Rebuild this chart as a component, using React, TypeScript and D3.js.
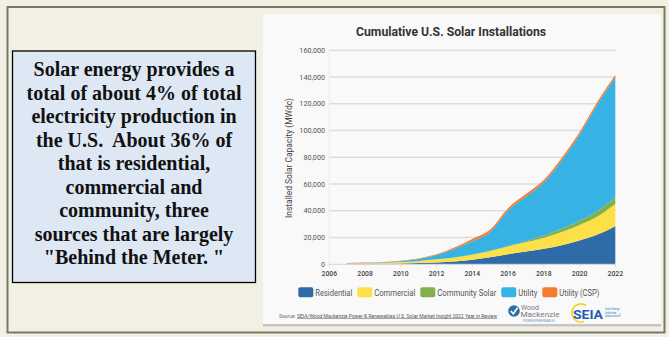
import React from "react";
import * as d3 from "d3";

const years = [2007, 2008, 2009, 2010, 2011, 2012, 2013, 2014, 2015, 2016, 2017, 2018, 2019, 2020, 2021, 2022];
const residential = [150, 250, 400, 650, 950, 1400, 2100, 3400, 5300, 7600, 9500, 11600, 14300, 17800, 22200, 28500];
const commercial = [250, 450, 650, 1000, 1600, 2300, 3000, 3800, 4700, 5700, 6900, 8300, 9800, 11500, 13500, 16500];
const communitySolar = [0, 0, 0, 0, 10, 30, 60, 100, 200, 400, 900, 1600, 2400, 3300, 4200, 5200];
const utility = [80, 180, 320, 580, 1330, 3250, 6340, 10000, 14000, 26500, 33400, 39700, 51200, 64300, 79800, 89500];
const utilityCSP = [420, 420, 430, 470, 510, 520, 1000, 1700, 1800, 1800, 1800, 1800, 1800, 1800, 1800, 1800];

const seriesNames = ["Residential", "Commercial", "Community Solar", "Utility", "Utility (CSP)"];
const seriesColors = ["#2d6ca9", "#fde047", "#82b04b", "#36b2e4", "#f47c30"];
const yTicks = [0, 20000, 40000, 60000, 80000, 100000, 120000, 140000, 160000];
const xTicks = [2006, 2008, 2010, 2012, 2014, 2016, 2018, 2020, 2022];
const legendWidths = [37, 41, 59, 19, 40];

const textLines = [
  "Solar energy provides a",
  "total of about 4% of total",
  "electricity production in",
  "the U.S.  About 36% of",
  "that is residential,",
  "commercial and",
  "community, three",
  "sources that are largely",
  "\"Behind the Meter. \"",
];

export default function App() {
  const x = d3.scaleLinear().domain([2006, 2022]).range([329.3, 615.3]);
  const y = d3.scaleLinear().domain([0, 160000]).range([264.3, 50.3]);

  const rows = years.map((yr, i) => ({
    year: yr,
    [seriesNames[0]]: residential[i],
    [seriesNames[1]]: commercial[i],
    [seriesNames[2]]: communitySolar[i],
    [seriesNames[3]]: utility[i],
    [seriesNames[4]]: utilityCSP[i],
  }));
  const stacked = d3.stack<any>().keys(seriesNames)(rows);
  const area = d3
    .area<any>()
    .x((d) => x(d.data.year))
    .y0((d) => y(d[0]))
    .y1((d) => y(d[1]))
    .curve(d3.curveMonotoneX);

  const fmt = d3.format(",");

  // legend layout
  const legendX: number[] = [];
  let lx = 298.3;
  legendWidths.forEach((w) => {
    legendX.push(lx);
    lx += 15 + 2.5 + w + 4.5;
  });

  return (
    <svg
      width={669}
      height={337}
      style={{ position: "absolute", left: 0, top: 0, display: "block" }}
      fontFamily="Roboto, 'Noto Sans', sans-serif"
    >
      <rect x={0} y={0} width={669} height={337} fill="#f1f0e2" />
      <rect x={7.5} y={7} width={657} height={325.5} fill="none" stroke="#76766a" strokeWidth={2} />

      {/* left text box */}
      <rect x={12.5} y={51} width={243} height={231.5} fill="#dde8f4" stroke="#000" strokeWidth={1.3} />
      {textLines.map((t, i) => (
        <text
          key={i}
          x={134}
          y={76 + i * 23.5}
          textAnchor="middle"
          fontFamily="'Liberation Serif', 'Times New Roman', serif"
          fontWeight="bold"
          fontSize={20}
          fill="#111"
          style={{ whiteSpace: "pre" }}
        >
          {t}
        </text>
      ))}

      {/* chart panel */}
      <rect x={263} y={14} width={398} height={311} fill="#f9f9f9" />
      <rect x={263} y={324} width={398} height={2.5} fill="#c6c6c6" />

      <text x={451} y={36} textAnchor="middle" fontSize={13} fontWeight="bold" fill="#333" textLength={190} lengthAdjust="spacingAndGlyphs">
        Cumulative U.S. Solar Installations
      </text>

      {/* gridlines */}
      {yTicks.map((t) => (
        <g key={t}>
          {t > 0 && <line x1={329.3} x2={616} y1={y(t)} y2={y(t)} stroke="#dddddd" strokeWidth={1.4} />}
          <text x={325} y={y(t) + 2.5} textAnchor="end" fontSize={7.2} fill="#555">
            {fmt(t)}
          </text>
        </g>
      ))}

      {/* areas */}
      {stacked.map((s, i) => (
        <path key={s.key} d={area(s) || ""} fill={seriesColors[i]} />
      ))}

      {/* axes */}
      <line x1={329.3} x2={616} y1={y(0)} y2={y(0)} stroke="#d8d8d8" strokeWidth={1} />
      <line x1={329.3} x2={329.3} y1={y(0)} y2={y(160000)} stroke="#e6e6e6" strokeWidth={0.8} />
      {xTicks.map((t) => (
        <g key={t}>
          <line x1={x(t)} x2={x(t)} y1={y(0)} y2={y(0) + 3} stroke="#d8d8d8" strokeWidth={0.8} />
          <text x={x(t)} y={275.5} textAnchor="middle" fontSize={6.8} fontWeight={500} fill="#444">
            {t}
          </text>
        </g>
      ))}

      <text
        transform="translate(291.5,158) rotate(-90)"
        textAnchor="middle"
        fontSize={9}
        fill="#444"
        textLength={120}
        lengthAdjust="spacingAndGlyphs"
      >
        Installed Solar Capacity (MWdc)
      </text>

      {/* legend */}
      {seriesNames.map((n, i) => (
        <g key={n}>
          <rect x={legendX[i]} y={287.3} width={15} height={10} rx={2} fill={seriesColors[i]} />
          <text
            x={legendX[i] + 17}
            y={295.5}
            fontSize={9}
            fill="#555"
            textLength={legendWidths[i]}
            lengthAdjust="spacingAndGlyphs"
          >
            {n}
          </text>
        </g>
      ))}

      {/* source */}
      <text x={279} y={317.5} fontSize={5} fill="#666" textLength={218} lengthAdjust="spacingAndGlyphs">
        <tspan>Source: </tspan>
        <tspan textDecoration="underline" style={{ textDecoration: "underline" }} fill="#555">
          SEIA/Wood Mackenzie Power &amp; Renewables U.S. Solar Market Insight 2022 Year in Review
        </tspan>
      </text>

      {/* Wood Mackenzie logo */}
      <circle cx={514} cy={311} r={5.8} fill="#2f6fa9" />
      <path d="M510.8,311 L513.3,313.8 L517.6,307.8" fill="none" stroke="#fff" strokeWidth={1.6} />
      <text x={521} y={309.5} fontSize={7} fill="#7a7a7a">Wood</text>
      <text x={520.5} y={317} fontSize={7} fill="#7a7a7a" textLength={39} lengthAdjust="spacingAndGlyphs">Mackenzie</text>
      <text x={523} y={322} fontSize={2.6} fill="#5b8fcf" textLength={32} lengthAdjust="spacingAndGlyphs">POWER &amp; RENEWABLES</text>

      {/* SEIA logo */}
      <path d="M586,305.5 A9,9 0 1 0 584,321.5" fill="none" stroke="#f4d21c" strokeWidth={1.6} />
      <text x={573} y={318.5} fontSize={12.5} fontWeight="bold" fill="#1f5fae" textLength={30} lengthAdjust="spacingAndGlyphs">SEIA</text>
      <text x={605} y={310} fontSize={2.6} fill="#3a78c2">Solar Energy</text>
      <text x={605} y={313.5} fontSize={2.6} fill="#3a78c2">Industries</text>
      <text x={605} y={317} fontSize={2.6} fill="#3a78c2">Association®</text>
    </svg>
  );
}
